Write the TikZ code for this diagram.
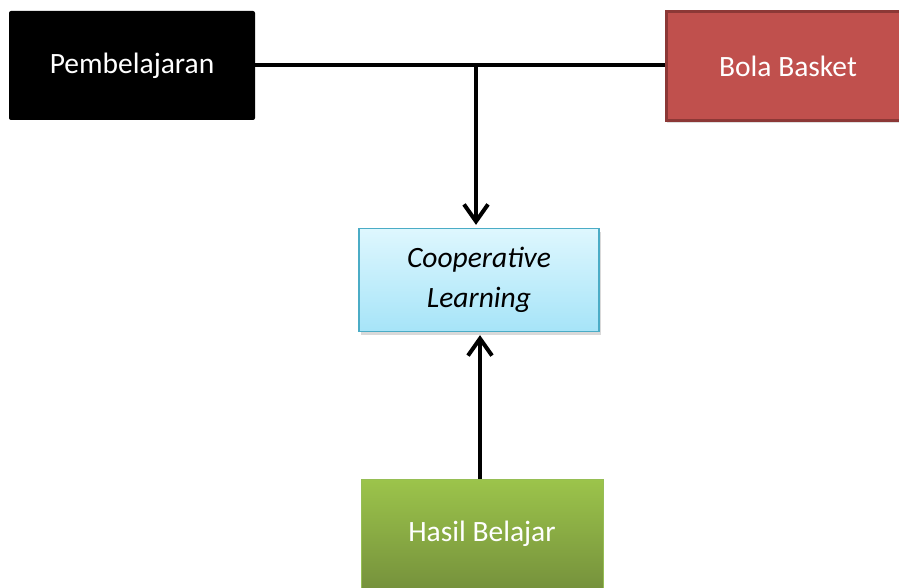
\documentclass[tikz,border=0pt]{standalone}
\usepackage{fontspec}
\setmainfont{Carlito}
\usetikzlibrary{arrows.meta,shadows}

% box colours
\definecolor{bolaFill}{RGB}{192, 80, 77}    % red
\definecolor{bolaLine}{RGB}{140, 56, 54}
\definecolor{coopTop}{RGB}{222, 247, 254}   % light cyan
\definecolor{coopBot}{RGB}{166, 228, 248}
\definecolor{coopLine}{RGB}{75, 172, 198}
\definecolor{hasilTop}{RGB}{156, 196, 75}   % green
\definecolor{hasilBot}{RGB}{118, 146, 60}
\definecolor{hasilLine}{RGB}{150, 190, 85}

\tikzset{
  box/.style={minimum width=244, minimum height=109, inner sep=0pt,
    font=\fontsize{29.5}{40}\selectfont, align=center},
  link/.style={line width=3.6pt, black},
  arrowlink/.style={link, -{Straight Barb[length=17pt, width=24pt, line width=4pt]}, shorten >=3pt}
}

\begin{document}
\begin{tikzpicture}[x=1pt,y=1pt,yscale=-1,xscale=1]

\useasboundingbox (0,0) rectangle (899,588);

% --- TOP ROW ---
\node[box, fill=black, text=white, rounded corners=2pt,
  minimum width=246] (pemb) at (132, 65.5) {Pembelajaran};
\node[box, fill=bolaFill, draw=bolaLine, line width=3pt, text=white,
  minimum height=109, drop shadow={opacity=0.25, shadow xshift=1pt, shadow yshift=-2pt}]
  (bola) at (788, 66.5) {Bola Basket};

% --- MIDDLE ---
\node[box, top color=coopTop, bottom color=coopBot, draw=coopLine, line width=1.3pt,
  minimum width=240, minimum height=103,
  drop shadow={opacity=0.3, shadow xshift=2pt, shadow yshift=-3pt}]
  (coop) at (479, 280) {\itshape Cooperative\\\itshape Learning};

% --- BOTTOM ---
\node[box, top color=hasilTop, bottom color=hasilBot, draw=hasilLine, line width=1pt,
  text=white, minimum width=242,
  drop shadow={opacity=0.3, shadow xshift=1pt, shadow yshift=-2pt}]
  (hasil) at (482, 533.5) {Hasil Belajar};

% --- CONNECTORS ---
\coordinate (jn) at (476, 65);
\draw[link] (pemb.east |- jn) -- (bola.west |- jn);
\draw[arrowlink] (jn) -- (jn |- coop.north);
\draw[arrowlink] ([xshift=-2pt]hasil.north) -- ([xshift=-2pt]hasil.north |- coop.south);

\end{tikzpicture}
\end{document}
